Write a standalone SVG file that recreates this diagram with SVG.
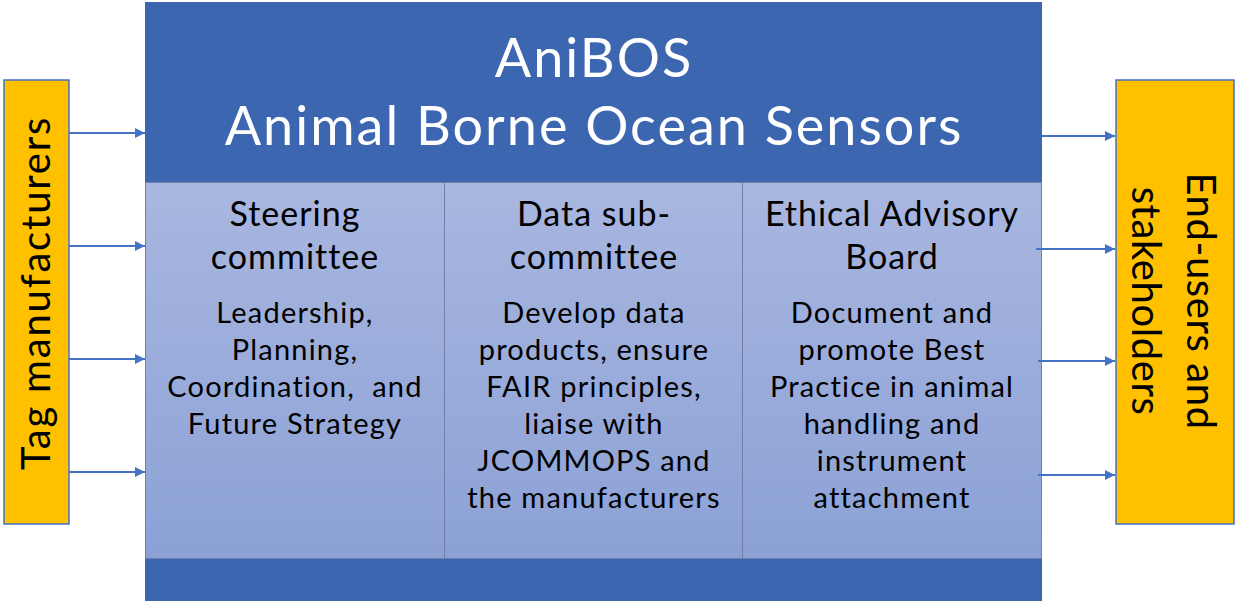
<svg xmlns="http://www.w3.org/2000/svg" width="1236" height="601" viewBox="0 0 1236 601">
  <style>
    .t { font-family: Lato, "Open Sans", "Liberation Sans", sans-serif; text-anchor: middle; }
    .head { fill: #ffffff; font-size: 54px; letter-spacing: 2px; }
    .title { fill: #000000; font-size: 34px; letter-spacing: 1px; }
    .body { fill: #000000; font-size: 29px; letter-spacing: 1.2px; }
    .side { fill: #000000; font-size: 40px; }
    .org { fill: #FFC000; stroke: #4472C4; stroke-width: 1.5; }
    .col { fill: url(#colFill); stroke: #6F7FA8; stroke-width: 1; }
    .link { stroke: #4472C4; stroke-width: 2; fill: none; marker-end: url(#arrow); }
  </style>
  <defs>
    <linearGradient id="colFill" x1="0" y1="0" x2="0" y2="1">
      <stop offset="0" stop-color="#A9B7E0"/>
      <stop offset="1" stop-color="#8BA1D6"/>
    </linearGradient>
    <marker id="arrow" viewBox="0 0 10 10" refX="10" refY="5" markerWidth="5" markerHeight="5" orient="auto" markerUnits="strokeWidth">
      <path d="M0,0 L10,5 L0,10 z" fill="#4472C4"/>
    </marker>
  </defs>

  <rect width="1236" height="601" fill="#ffffff"/>

  <!-- main AniBOS block -->
  <g id="anibos">
    <rect x="145" y="2" width="897" height="599" fill="#3D66B0"/>
    <text class="t head" x="594" y="77">AniBOS</text>
    <text class="t head" x="594" y="145">Animal Borne Ocean Sensors</text>
  </g>

  <g id="steering">
    <rect class="col" x="145.5" y="182.5" width="299" height="376"/>
    <text class="t title" x="295" y="226">Steering</text>
    <text class="t title" x="295" y="269">committee</text>
    <text class="t body" x="295" y="323">Leadership,</text>
    <text class="t body" x="295" y="360">Planning,</text>
    <text class="t body" x="295" y="397" xml:space="preserve">Coordination,  and</text>
    <text class="t body" x="295" y="434">Future Strategy</text>
  </g>

  <g id="data">
    <rect class="col" x="444.5" y="182.5" width="298" height="376"/>
    <text class="t title" x="594" y="226">Data sub-</text>
    <text class="t title" x="594" y="269">committee</text>
    <text class="t body" x="594" y="323">Develop data</text>
    <text class="t body" x="594" y="360">products, ensure</text>
    <text class="t body" x="594" y="397">FAIR principles,</text>
    <text class="t body" x="594" y="434">liaise with</text>
    <text class="t body" x="594" y="471">JCOMMOPS and</text>
    <text class="t body" x="594" y="508">the manufacturers</text>
  </g>

  <g id="ethics">
    <rect class="col" x="742.5" y="182.5" width="299" height="376"/>
    <text class="t title" x="892" y="226">Ethical Advisory</text>
    <text class="t title" x="892" y="269">Board</text>
    <text class="t body" x="892" y="323">Document and</text>
    <text class="t body" x="892" y="360">promote Best</text>
    <text class="t body" x="892" y="397">Practice in animal</text>
    <text class="t body" x="892" y="434">handling and</text>
    <text class="t body" x="892" y="471">instrument</text>
    <text class="t body" x="892" y="508">attachment</text>
  </g>

  <g id="tag-manufacturers">
    <rect class="org" x="4" y="80" width="65" height="444"/>
    <text class="t side" style="letter-spacing:1.8px" transform="translate(50,293) rotate(-90)">Tag manufacturers</text>
  </g>

  <g id="end-users">
    <rect class="org" x="1116" y="80" width="118" height="444"/>
    <text class="t side" style="letter-spacing:0.6px" transform="translate(1187,301) rotate(90)">End-users and</text>
    <text class="t side" style="letter-spacing:0.6px" transform="translate(1132,301) rotate(90)">stakeholders</text>
  </g>

  <g id="connectors">
    <line class="link" x1="69" y1="133" x2="145" y2="133"/>
    <line class="link" x1="69" y1="246" x2="145" y2="246"/>
    <line class="link" x1="69" y1="359" x2="145" y2="359"/>
    <line class="link" x1="69" y1="472" x2="145" y2="472"/>
    <line class="link" x1="1042" y1="136" x2="1115" y2="136"/>
    <line class="link" x1="1036" y1="249" x2="1115" y2="249"/>
    <line class="link" x1="1038" y1="361" x2="1115" y2="361"/>
    <line class="link" x1="1038" y1="475" x2="1115" y2="475"/>
  </g>
</svg>
